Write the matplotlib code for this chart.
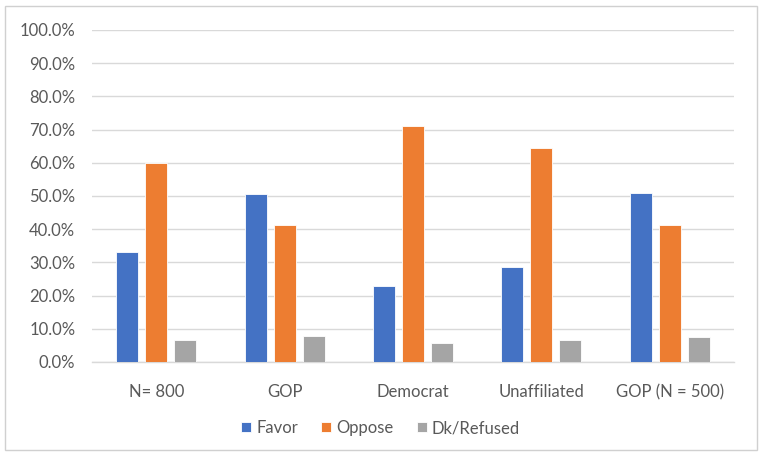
import numpy as np
import matplotlib.pyplot as plt
from matplotlib.patches import Rectangle

#values (percent)
categories = ['N= 800', 'GOP', 'Democrat', 'Unaffiliated', 'GOP (N = 500)']
favor = [33.2, 50.6, 22.9, 28.5, 50.8]
oppose = [59.8, 41.2, 71.1, 64.6, 41.2]
dkRefused = [6.6, 7.9, 5.7, 6.7, 7.6]
seriesNames = ['Favor', 'Oppose', 'Dk/Refused']
yTicks = [0, 10, 20, 30, 40, 50, 60, 70, 80, 90, 100]

colors = ['#4472C4', '#ED7D31', '#A5A5A5']
textColor = '#595959'
gridColor = '#D9D9D9'

plt.rcParams['font.family'] = ['Lato', 'DejaVu Sans']

fig = plt.figure(figsize=(7.61, 4.54), dpi=100)
ax = fig.add_axes([92/761, 1 - 362/454, (734 - 92)/761, (362 - 30)/454])

x = np.arange(len(categories))
barWidth = 0.172
step = 0.226
for i, (vals, name) in enumerate(zip([favor, oppose, dkRefused], seriesNames)):
    ax.bar(x + (i - 1)*step, vals, width=barWidth, color=colors[i], label=name,
           edgecolor='white', linewidth=0.6, zorder=3)

ax.set_xlim(-0.5, len(categories) - 0.5)
ax.set_ylim(0, 100)
ax.set_yticks(yTicks)
ax.set_yticklabels([f'{t:.1f}%' for t in yTicks])
ax.set_xticks(x)
ax.set_xticklabels(categories)
ax.tick_params(axis='both', length=0, labelsize=12, colors=textColor)
ax.tick_params(axis='y', pad=12)
ax.tick_params(axis='x', pad=16)

ax.grid(axis='y', color=gridColor, linewidth=1, zorder=0)
for side in ['left', 'right', 'top']:
    ax.spines[side].set_visible(False)
ax.spines['bottom'].set_color(gridColor)
ax.spines['bottom'].set_linewidth(1)

leg = fig.legend(loc='center', bbox_to_anchor=(0.5, 1 - 428/454), ncol=3, frameon=False,
                 fontsize=12, handlelength=0.6, handleheight=0.6, handletextpad=0.3,
                 columnspacing=1.4)
for t in leg.get_texts():
    t.set_color(textColor)

#light border round the whole chart
fig.patches.append(Rectangle((5/761, 4/454), 752/761, 444/454, transform=fig.transFigure,
                             fill=False, edgecolor='#D0D0D0', linewidth=1))

fig.savefig('out.png', dpi=100)
